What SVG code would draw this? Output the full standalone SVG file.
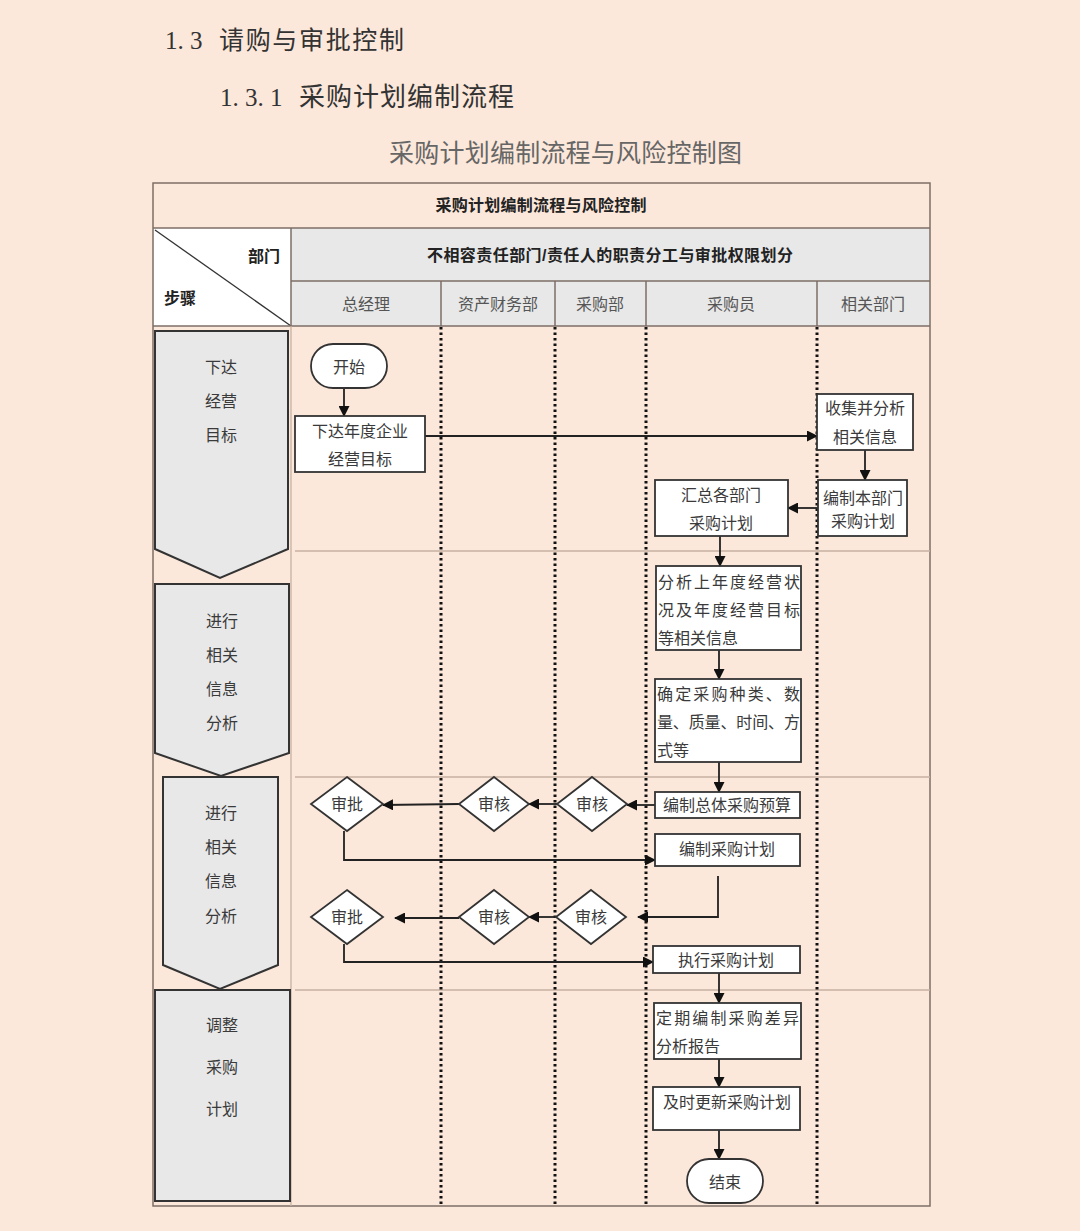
<svg xmlns="http://www.w3.org/2000/svg" width="1080" height="1231" viewBox="0 0 1080 1231">
<style>
.bg{fill:#fce8da}
.grid{stroke:#7d6e66;stroke-width:1.5;fill:none}
.sep{stroke:#c7b0a2;stroke-width:1.3;fill:none}
.dot{stroke:#111;stroke-width:3;stroke-dasharray:2.5 3;fill:none}
.gray{fill:#e8e8e8}
.phase{fill:#e8e8e8;stroke:#333;stroke-width:2}
.box{fill:#fff;stroke:#333;stroke-width:1.8}
.t{font-family:"Liberation Sans","Noto Sans CJK SC",sans-serif;font-size:16px;fill:#3a3a3a;dominant-baseline:central}
.c{text-anchor:middle}
.b{font-weight:bold;fill:#222}
.h{font-family:"Liberation Serif","Noto Sans CJK SC",serif;fill:#333;dominant-baseline:central}
.conn{stroke:#222;stroke-width:1.8;fill:none}
</style>
<defs>
<marker id="arr" markerUnits="userSpaceOnUse" markerWidth="11" markerHeight="11" refX="10" refY="5.5" orient="auto">
<path d="M0,0 L11,5.5 L0,11 z" fill="#111"/>
</marker>
</defs>
<rect class="bg" x="0" y="0" width="1080" height="1231"/>

<g id="headings">
<text class="h" x="165" y="40" font-size="25">1. 3</text>
<text class="h" x="219" y="40" font-size="25" textLength="185" lengthAdjust="spacing">请购与审批控制</text>
<text class="h" x="220" y="97" font-size="25">1. 3. 1</text>
<text class="h" x="299" y="97" font-size="26" textLength="215" lengthAdjust="spacing">采购计划编制流程</text>
<text class="h" x="389" y="153" font-size="25" style="fill:#666" textLength="353" lengthAdjust="spacing">采购计划编制流程与风险控制图</text>
</g>

<g id="table">
<rect class="gray" x="291" y="228" width="639" height="98"/>
<rect fill="#fff" x="153" y="228" width="138" height="98"/>
<line x1="155" y1="230" x2="291" y2="326" stroke="#333" stroke-width="1.3"/>
<rect class="grid" x="153" y="183" width="777" height="1023"/>
<line class="grid" x1="153" y1="228" x2="930" y2="228"/>
<line class="grid" x1="291" y1="281" x2="930" y2="281"/>
<line class="grid" x1="153" y1="326" x2="930" y2="326"/>
<line class="grid" x1="291" y1="228" x2="291" y2="326"/>
<line class="grid" x1="441" y1="281" x2="441" y2="326"/>
<line class="grid" x1="555" y1="281" x2="555" y2="326"/>
<line class="grid" x1="646" y1="281" x2="646" y2="326"/>
<line class="grid" x1="817" y1="281" x2="817" y2="326"/>
<line class="sep" x1="291" y1="326" x2="291" y2="1206"/>
<line class="sep" x1="295" y1="551" x2="930" y2="551"/>
<line class="sep" x1="295" y1="777" x2="930" y2="777"/>
<line class="sep" x1="295" y1="990" x2="930" y2="990"/>
<line class="dot" x1="441" y1="327" x2="441" y2="1206"/>
<line class="dot" x1="555" y1="327" x2="555" y2="1206"/>
<line class="dot" x1="646" y1="327" x2="646" y2="1206"/>
<line class="dot" x1="817" y1="327" x2="817" y2="1206"/>
<text class="t c b" x="541" y="205" textLength="211" lengthAdjust="spacing">采购计划编制流程与风险控制</text>
<text class="t c b" x="610" y="255" textLength="366" lengthAdjust="spacing">不相容责任部门/责任人的职责分工与审批权限划分</text>
<text class="t b" x="248" y="256">部门</text>
<text class="t b" x="164" y="298">步骤</text>
<text class="t c" x="366" y="304" style="fill:#555">总经理</text>
<text class="t c" x="498" y="304" style="fill:#555">资产财务部</text>
<text class="t c" x="600" y="304" style="fill:#555">采购部</text>
<text class="t c" x="731" y="304" style="fill:#555">采购员</text>
<text class="t c" x="873" y="304" style="fill:#555">相关部门</text>
</g>

<g id="phase1">
<polygon class="phase" points="155,331 288,331 288,549 220,578 155,549"/>
<text class="t c" x="221" y="367">下达</text>
<text class="t c" x="221" y="401">经营</text>
<text class="t c" x="221" y="435">目标</text>
</g>
<g id="phase2">
<polygon class="phase" points="155,584 289,584 289,753 221,776 155,753"/>
<text class="t c" x="222" y="621">进行</text>
<text class="t c" x="222" y="655">相关</text>
<text class="t c" x="222" y="689">信息</text>
<text class="t c" x="222" y="723">分析</text>
</g>
<g id="phase3">
<polygon class="phase" points="163,777 278,777 278,965 220,989 163,965"/>
<text class="t c" x="221" y="813">进行</text>
<text class="t c" x="221" y="847">相关</text>
<text class="t c" x="221" y="881">信息</text>
<text class="t c" x="221" y="916">分析</text>
</g>
<g id="phase4">
<rect class="phase" x="155" y="990" width="135" height="211"/>
<text class="t c" x="222" y="1025">调整</text>
<text class="t c" x="222" y="1067">采购</text>
<text class="t c" x="222" y="1109">计划</text>
</g>

<g id="connectors">
<path class="conn" d="M344,388 V416" marker-end="url(#arr)"/>
<path class="conn" d="M425,436 H817" marker-end="url(#arr)"/>
<path class="conn" d="M865,450 V480" marker-end="url(#arr)"/>
<path class="conn" d="M818,508 H788" marker-end="url(#arr)"/>
<path class="conn" d="M720,536 V566" marker-end="url(#arr)"/>
<path class="conn" d="M719,650 V679" marker-end="url(#arr)"/>
<path class="conn" d="M719,762 V792" marker-end="url(#arr)"/>
<path class="conn" d="M655,805 H627" marker-end="url(#arr)"/>
<path class="conn" d="M557,804 H529" marker-end="url(#arr)"/>
<path class="conn" d="M459,804 L383,805" marker-end="url(#arr)"/>
<path class="conn" d="M344,831 V860 H655" marker-end="url(#arr)"/>
<path class="conn" d="M718,876 V917 H638" marker-end="url(#arr)"/>
<path class="conn" d="M556,917 H529" marker-end="url(#arr)"/>
<path class="conn" d="M459,918 H395" marker-end="url(#arr)"/>
<path class="conn" d="M344,944 V962 H653" marker-end="url(#arr)"/>
<path class="conn" d="M719,973 V1003" marker-end="url(#arr)"/>
<path class="conn" d="M719,1059 V1087" marker-end="url(#arr)"/>
<path class="conn" d="M719,1130 V1159" marker-end="url(#arr)"/>
</g>

<g id="start">
<rect class="box" x="311" y="344" width="76" height="44" rx="22"/>
<text class="t c" x="349" y="367">开始</text>
</g>
<g id="n_target">
<rect class="box" x="295" y="416" width="130" height="56"/>
<text class="t c" x="360" y="431">下达年度企业</text>
<text class="t c" x="360" y="459">经营目标</text>
</g>
<g id="n_collect">
<rect class="box" x="817" y="394" width="96" height="56"/>
<text class="t c" x="865" y="408">收集并分析</text>
<text class="t c" x="865" y="437">相关信息</text>
</g>
<g id="n_deptplan">
<rect class="box" x="818" y="480" width="89" height="56"/>
<text class="t c" x="863" y="498">编制本部门</text>
<text class="t c" x="863" y="521">采购计划</text>
</g>
<g id="n_summary">
<rect class="box" x="655" y="480" width="133" height="56"/>
<text class="t c" x="721" y="495">汇总各部门</text>
<text class="t c" x="721" y="523">采购计划</text>
</g>
<g id="n_analyze">
<rect class="box" x="656" y="566" width="145" height="84"/>
<text class="t" x="658" y="582" textLength="142" lengthAdjust="spacing">分析上年度经营状</text>
<text class="t" x="658" y="610" textLength="142" lengthAdjust="spacing">况及年度经营目标</text>
<text class="t" x="658" y="638">等相关信息</text>
</g>
<g id="n_determine">
<rect class="box" x="655" y="679" width="146" height="83"/>
<text class="t" x="657" y="694" textLength="143" lengthAdjust="spacing">确定采购种类、数</text>
<text class="t" x="657" y="722" textLength="143" lengthAdjust="spacing">量、质量、时间、方</text>
<text class="t" x="657" y="750">式等</text>
</g>
<g id="n_budget">
<rect class="box" x="655" y="792" width="145" height="26"/>
<text class="t c" x="727" y="805">编制总体采购预算</text>
</g>
<g id="d_review1">
<polygon class="box" points="592,777 627,804 592,831 557,804"/>
<text class="t c" x="592" y="804">审核</text>
</g>
<g id="d_review2">
<polygon class="box" points="494,777 529,804 494,831 459,804"/>
<text class="t c" x="494" y="804">审核</text>
</g>
<g id="d_approve1">
<polygon class="box" points="347,777 383,804 347,831 311,804"/>
<text class="t c" x="347" y="804">审批</text>
</g>
<g id="n_plan">
<rect class="box" x="655" y="834" width="145" height="32"/>
<text class="t c" x="727" y="849">编制采购计划</text>
</g>
<g id="d_review3">
<polygon class="box" points="591,890 626,917 591,944 556,917"/>
<text class="t c" x="591" y="917">审核</text>
</g>
<g id="d_review4">
<polygon class="box" points="494,890 529,917 494,944 459,917"/>
<text class="t c" x="494" y="917">审核</text>
</g>
<g id="d_approve2">
<polygon class="box" points="347,890 383,917 347,944 311,917"/>
<text class="t c" x="347" y="917">审批</text>
</g>
<g id="n_execute">
<rect class="box" x="653" y="946" width="147" height="27"/>
<text class="t c" x="726" y="960">执行采购计划</text>
</g>
<g id="n_report">
<rect class="box" x="654" y="1003" width="147" height="56"/>
<text class="t" x="656" y="1018" textLength="143" lengthAdjust="spacing">定期编制采购差异</text>
<text class="t" x="656" y="1046">分析报告</text>
</g>
<g id="n_update">
<rect class="box" x="653" y="1087" width="147" height="43"/>
<text class="t c" x="727" y="1102">及时更新采购计划</text>
</g>
<g id="end">
<rect class="box" x="687" y="1159" width="76" height="44" rx="22"/>
<text class="t c" x="725" y="1182">结束</text>
</g>
</svg>
